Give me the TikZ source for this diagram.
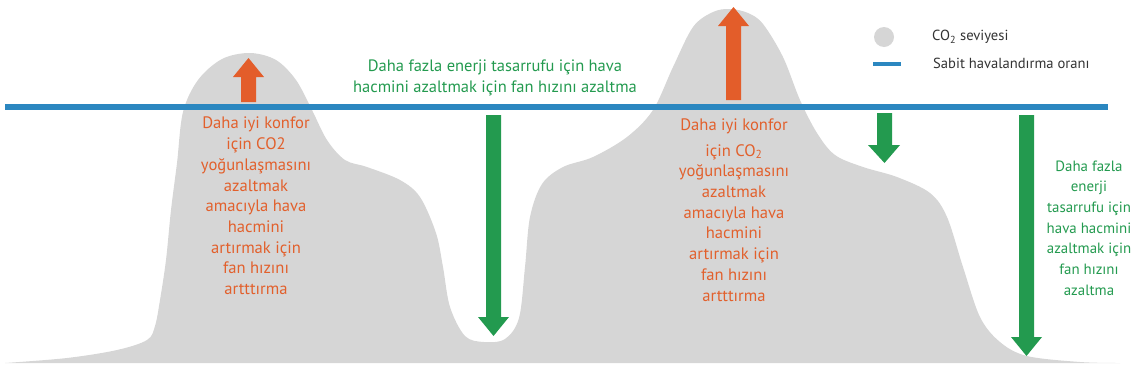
\documentclass[tikz,border=0pt]{standalone}
\usepackage{fontspec}
\setmainfont{PT Sans}
\definecolor{co2gray}{HTML}{D6D6D6}
\definecolor{ventblue}{HTML}{2B87C0}
\definecolor{upor}{HTML}{E35D2A}
\definecolor{txtor}{HTML}{E2602C}
\definecolor{dngreen}{HTML}{239A4F}
\definecolor{legtxt}{HTML}{333333}
\tikzset{
  orangetxt/.style={text=txtor, align=center, font=\fontsize{16.6}{20.7}\selectfont, inner sep=0pt},
  greentxt/.style={text=dngreen, align=center, font=\fontsize{16.5}{21}\selectfont, inner sep=0pt},
  greensmall/.style={text=dngreen, align=center, font=\fontsize{14.9}{20.7}\selectfont, inner sep=0pt},
  legendtxt/.style={text=legtxt, anchor=west, font=\fontsize{14.6}{16}\selectfont, inner sep=0pt},
  uparr/.style={fill=upor, draw=none},
  downarr/.style={fill=dngreen, draw=none}
}
\begin{document}
\begin{tikzpicture}[x=1pt,y=-1pt]
\useasboundingbox (0,0) rectangle (1140,381);
% CO2 level silhouette
\fill[co2gray] plot[smooth, tension=0.55] coordinates {
 (5,363) (67,358) (117,350) (147,340) (155,326) (160,300) (166,260) (171,210) (177,163)
 (183,112) (198,80) (222,59) (250,53) (276,60) (296,80) (312,110) (327,140)
 (345,160) (367,167) (400,180) (420,197) (436,233) (443,267) (450,307) (465,336)
 (484,342) (505,339) (519,318) (525,267) (530,217) (542,184) (563,167) (593,157)
 (627,137) (653,110) (673,67) (693,27) (713,12) (730,9) (748,13) (763,24)
 (783,57) (800,100) (817,133) (835,155) (863,167) (897,177) (930,193) (947,217)
 (963,267) (980,317) (1000,342) (1027,356) (1080,362) (1120,363)} -- cycle;
% constant ventilation line
\draw[ventblue, line width=6pt] (5,107) coordinate (lineL) -- (1108,107) coordinate (lineR);
% orange up arrows
\fill[uparr] (241,102) -- (241,77) -- (233,77) -- (248.5,58) -- (264,77) -- (256,77) -- (256,102) -- cycle;
\fill[uparr] (726,100) -- (726,26) -- (718,26) -- (733.5,7) -- (749,26) -- (741,26) -- (741,100) -- cycle;
% green down arrows
\fill[downarr] (486,115) -- (486,317) -- (478,317) -- (493.5,336) -- (509,317) -- (501,317) -- (501,115) -- cycle;
\fill[downarr] (877,113) -- (877,145) -- (868,145) -- (884.5,163) -- (900,145) -- (892,145) -- (892,113) -- cycle;
\fill[downarr] (1019,115) -- (1019,337) -- (1011,337) -- (1026.5,356) -- (1042,337) -- (1034,337) -- (1034,115) -- cycle;
% texts
\node[orangetxt] (leftTxt) at (256,206) {Daha iyi konfor\\için CO2\\yoğunlaşmasını\\azaltmak\\amacıyla hava\\hacmini\\artırmak için\\fan hızını\\artttırma};
\node[orangetxt] (midTxt) at (734,210) {Daha iyi konfor\\[5pt]için CO\textsubscript{2}\\yoğunlaşmasını\\azaltmak\\amacıyla hava\\hacmini\\artırmak için\\fan hızını\\artttırma};
\node[greentxt] (topTxt) at (495,78) {Daha fazla enerji tasarrufu için hava\\hacmini azaltmak için fan hızını azaltma};
\node[greensmall] (rightTxt) at (1089,228) {Daha fazla\\enerji\\tasarrufu için\\hava hacmini\\azaltmak için\\fan hızını\\azaltma};
% legend
\fill[co2gray] (884,37) circle[radius=10];
\node[legendtxt] (legCO2) at (932,37) {CO\textsubscript{2} seviyesi};
\draw[ventblue, line width=4pt] (873,64) -- (901,64);
\node[legendtxt] (legVent) at (933,63) {Sabit havalandırma oranı};
\end{tikzpicture}
\end{document}
